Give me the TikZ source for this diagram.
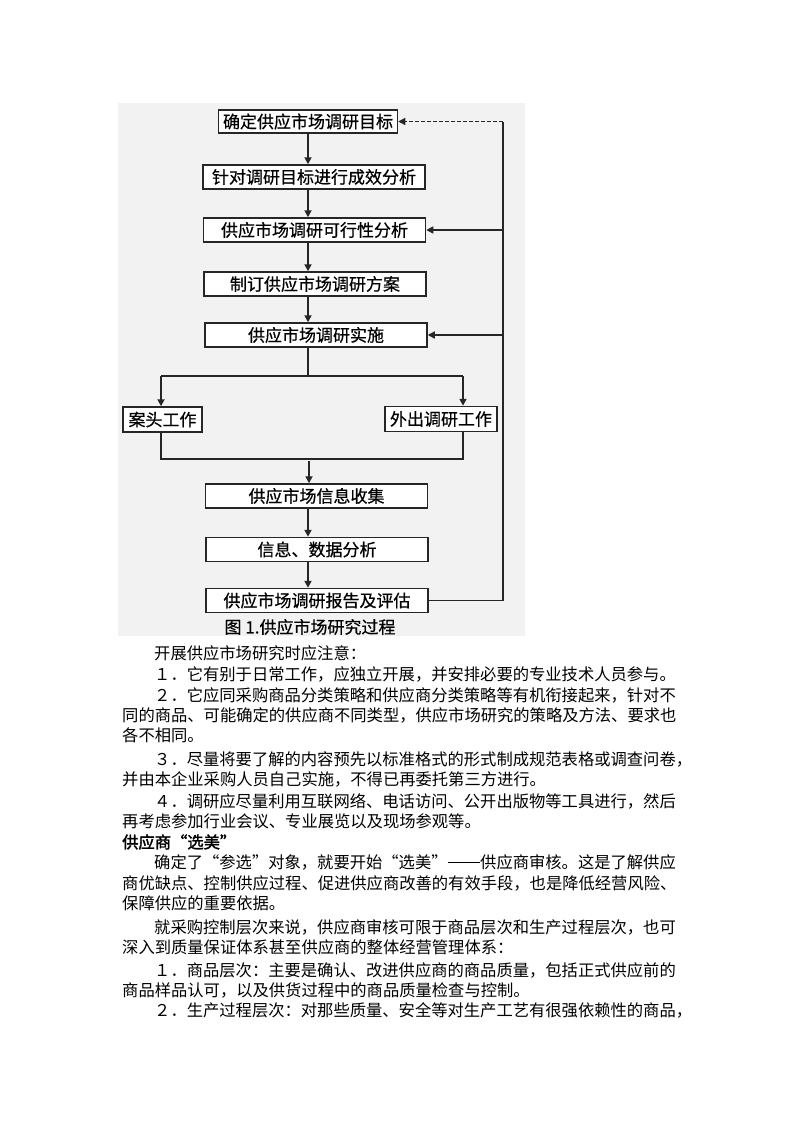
\documentclass[tikz,border=0pt]{standalone}
\usepackage{fontspec}
\newfontfamily\cjk{Noto Sans CJK SC}
\newfontfamily\cjkbox[FakeBold=0.6]{Noto Sans CJK SC}
\newfontfamily\cjkbold[FakeBold=2]{Noto Sans CJK SC}
\usetikzlibrary{arrows.meta}
\newcommand\lqt{\makebox[1em][r]{“}}
\newcommand\rqt{\makebox[1em][l]{”}}
\newcommand\emd{\makebox[2em]{\rule[0.32em]{2em}{0.06em}}}

\begin{document}
\begin{tikzpicture}[x=1pt, y=-1pt,
		box/.style={draw=black!85, line width=1.5pt, fill=white, inner sep=0pt, minimum width=222pt, minimum height=24pt, font=\cjkbox\fontsize{17pt}{17pt}\selectfont},
		wire/.style={line width=1.8pt, black!85},
		flow/.style={wire, -{Triangle[length=7pt, width=7pt]}},
		back/.style={line width=1.4pt, black!85, -{Triangle[length=7pt, width=7pt]}},
		txt/.style={anchor=west, inner sep=0pt, font=\cjk\fontsize{16.3pt}{16.3pt}\selectfont}]
		%%%%% START %%%%%
		
		\useasboundingbox (0, 0) rectangle (800, 1132);
		\fill[white] (0, 0) rectangle (800, 1132);
		\fill[black!5] (118, 103) rectangle (525, 636);
		
		\node[box, minimum width=179pt, minimum height=23pt] (b1) at (308, 121.5) {确定供应市场调研目标};
		\node[box] (b2) at (314, 177) {针对调研目标进行成效分析};
		\node[box] (b3) at (314.5, 230) {供应市场调研可行性分析};
		\node[box] (b4) at (315, 284) {制订供应市场调研方案};
		\node[box] (b5) at (316, 335) {供应市场调研实施};
		
		\node[box, minimum width=79pt, minimum height=25pt] (desk) at (162.5, 419.5) {案头工作};
		\node[box, minimum width=112pt, minimum height=25pt] (field) at (441, 419) {外出调研工作};
		
		\node[box] (b6) at (316.5, 496) {供应市场信息收集};
		\node[box] (b7) at (317, 549.5) {信息、数据分析};
		\node[box] (b8) at (317, 600.5) {供应市场调研报告及评估};
		
		\node[inner sep=0pt, font=\cjkbox\fontsize{17pt}{17pt}\selectfont] (cap) at (310, 627) {图 1.供应市场研究过程};
		
		\coordinate (ax) at (308, 0);
		\coordinate (sp) at (308, 376);
		\coordinate (ls) at (161, 376);
		\coordinate (rs) at (463, 376);
		\coordinate (jn) at (309, 459);
		\coordinate (rt) at (503, 121.5);
		
		\draw[flow] (b1.south) -- (ax |- b2.north);
		\draw[flow] (ax |- b2.south) -- (ax |- b3.north);
		\draw[flow] (ax |- b3.south) -- (ax |- b4.north);
		\draw[flow] (ax |- b4.south) -- (ax |- b5.north);
		
		\draw[wire] (ax |- b5.south) -- (sp);
		\draw[wire] (ls) -- (rs);
		\draw[flow] (ls) -- (ls |- desk.north);
		\draw[flow] (rs) -- (rs |- field.north);
		\draw[wire] (ls |- desk.south) -- (ls |- jn) -- (rs |- jn) -- (rs |- field.south);
		\draw[flow] ([yshift=-2pt]jn) -- (jn |- b6.north);
		
		\draw[flow] (ax |- b6.south) -- (ax |- b7.north);
		\draw[flow] (ax |- b7.south) -- (ax |- b8.north);
		
		\draw[line width=1.4pt, black!85] (b8.east) -| (rt);
		\draw[back, dash pattern=on 4pt off 2pt] (rt) -- (b1.east);
		\draw[back] (rt |- b3.east) -- (b3.east);
		\draw[back] (rt |- b5.east) -- (b5.east);
		
		\node[txt] (t1) at (154, 653) {开展供应市场研究时应注意：};
		\node[txt] (t2) at (154, 674) {１．它有别于日常工作，应独立开展，并安排必要的专业技术人员参与。};
		\node[txt] (t3) at (154, 695) {２．它应同采购商品分类策略和供应商分类策略等有机衔接起来，针对不};
		\node[txt] (t4) at (122, 715) {同的商品、可能确定的供应商不同类型，供应市场研究的策略及方法、要求也};
		\node[txt] (t5) at (122, 735) {各不相同。};
		\node[txt] (t6) at (154, 759) {３．尽量将要了解的内容预先以标准格式的形式制成规范表格或调查问卷，};
		\node[txt] (t7) at (122, 779) {并由本企业采购人员自己实施，不得已再委托第三方进行。};
		\node[txt] (t8) at (154, 801) {４．调研应尽量利用互联网络、电话访问、公开出版物等工具进行，然后};
		\node[txt] (t9) at (122, 821) {再考虑参加行业会议、专业展览以及现场参观等。};
		
		\node[txt, font=\cjkbold\fontsize{16.3pt}{16.3pt}\selectfont] (head) at (122, 842) {供应商\lqt 选美\rqt};
		
		\node[txt] (t10) at (154, 862) {确定了\lqt 参选\rqt 对象，就要开始\lqt 选美\rqt\emd 供应商审核。这是了解供应};
		\node[txt] (t11) at (122, 883) {商优缺点、控制供应过程、促进供应商改善的有效手段，也是降低经营风险、};
		\node[txt] (t12) at (122, 903) {保障供应的重要依据。};
		\node[txt] (t13) at (154, 927) {就采购控制层次来说，供应商审核可限于商品层次和生产过程层次，也可};
		\node[txt] (t14) at (122, 947) {深入到质量保证体系甚至供应商的整体经营管理体系：};
		\node[txt] (t15) at (154, 970) {１．商品层次：主要是确认、改进供应商的商品质量，包括正式供应前的};
		\node[txt] (t16) at (122, 990) {商品样品认可，以及供货过程中的商品质量检查与控制。};
		\node[txt] (t17) at (154, 1010) {２．生产过程层次：对那些质量、安全等对生产工艺有很强依赖性的商品，};
		
		%%%%% END %%%%%
	\end{tikzpicture}
\end{document}
